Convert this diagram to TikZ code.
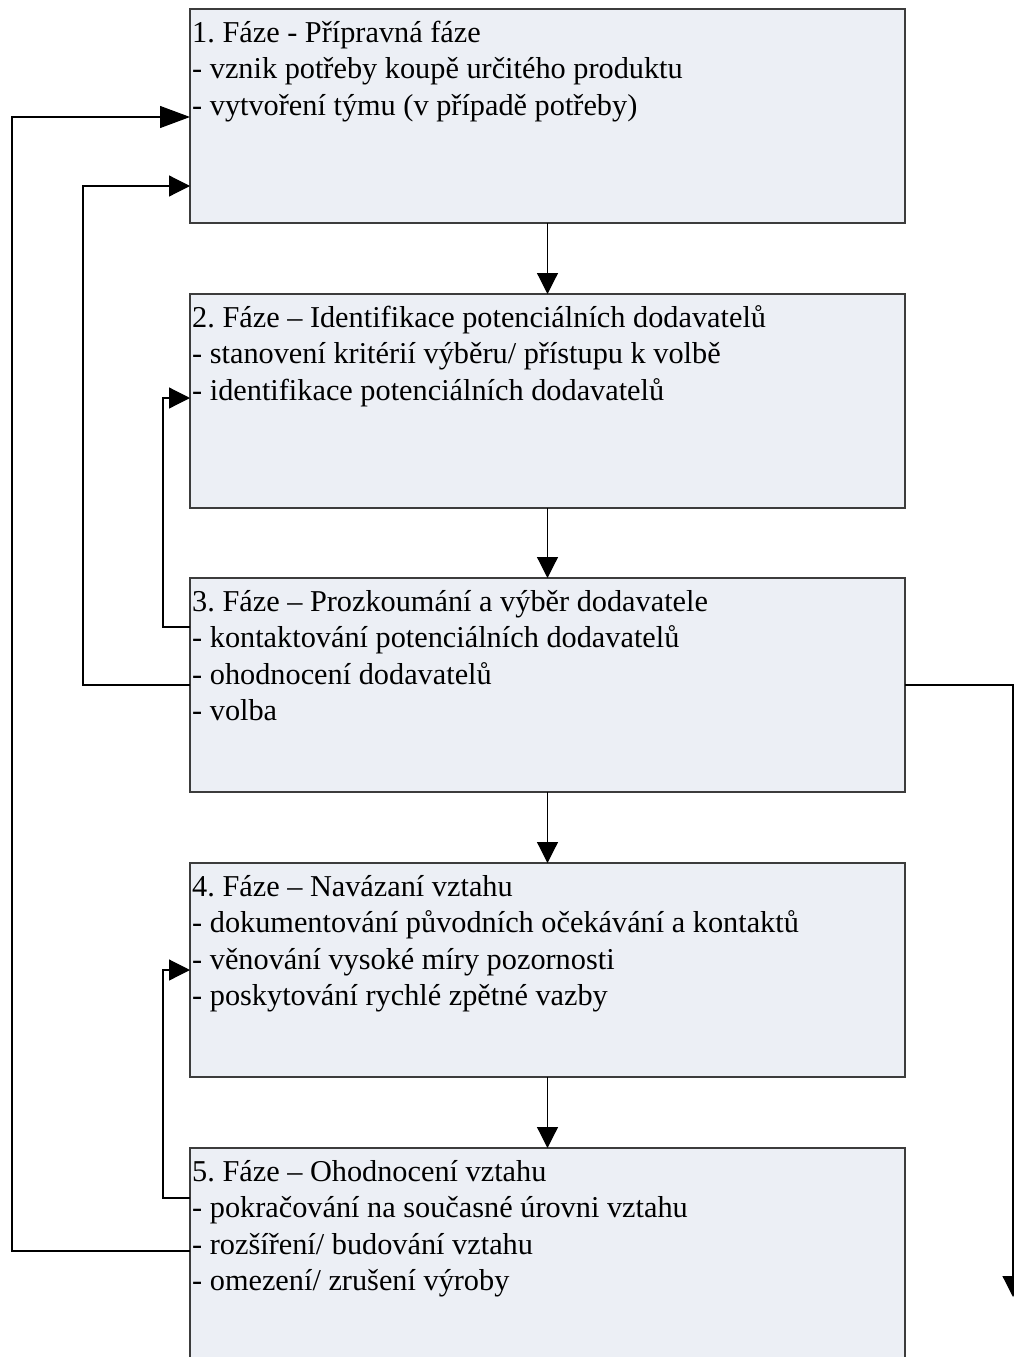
\documentclass[tikz,border=0pt]{standalone}
\usepackage{fontspec}
\setmainfont{Liberation Serif}
\usetikzlibrary{arrows.meta}
\definecolor{boxfill}{HTML}{ECEFF5}
\definecolor{boxline}{HTML}{3C3C3C}
\frenchspacing

\begin{document}
\begin{tikzpicture}[x=1pt,y=-1pt,
  phase/.style={draw=boxline, line width=1.6pt, fill=boxfill,
    minimum width=715pt, minimum height=214pt, inner sep=0pt, outer sep=0pt,
    anchor=north west},
  phasetext/.style={anchor=north west, inner sep=0pt, align=left,
    font=\fontsize{30.3}{36.3}\selectfont\frenchspacing},
  link/.style={line width=1.2pt, -{Triangle[length=21pt,width=21pt]}},
  biglink/.style={line width=1.2pt, -{Triangle[length=30pt,width=22pt]}}]

\useasboundingbox (0,0) rectangle (1014,1357);
\clip (0,0) rectangle (1014,1357);

% phase boxes
\node[phase] (b1) at (190,9)    {};
\node[phase] (b2) at (190,294)  {};
\node[phase] (b3) at (190,578)  {};
\node[phase] (b4) at (190,863)  {};
\node[phase] (b5) at (190,1148) {};

% phase texts
\node[phasetext] (t1) at ([xshift=2pt,yshift=-8pt]b1.north west)
  {\strut 1. Fáze - Přípravná fáze\\
   \strut - vznik potřeby koupě určitého produktu\\
   \strut - vytvoření týmu (v případě potřeby)};
\node[phasetext] (t2) at ([xshift=2pt,yshift=-8pt]b2.north west)
  {\strut 2. Fáze – Identifikace potenciálních dodavatelů\\
   \strut - stanovení kritérií výběru/ přístupu k volbě\\
   \strut - identifikace potenciálních dodavatelů};
\node[phasetext] (t3) at ([xshift=2pt,yshift=-8pt]b3.north west)
  {\strut 3. Fáze – Prozkoumání a výběr dodavatele\\
   \strut - kontaktování potenciálních dodavatelů\\
   \strut - ohodnocení dodavatelů\\
   \strut - volba};
\node[phasetext] (t4) at ([xshift=2pt,yshift=-8pt]b4.north west)
  {\strut 4. Fáze – Navázaní vztahu\\
   \strut - dokumentování původních očekávání a kontaktů\\
   \strut - věnování vysoké míry pozornosti\\
   \strut - poskytování rychlé zpětné vazby};
\node[phasetext] (t5) at ([xshift=2pt,yshift=-8pt]b5.north west)
  {\strut 5. Fáze – Ohodnocení vztahu\\
   \strut - pokračování na současné úrovni vztahu\\
   \strut - rozšíření/ budování vztahu\\
   \strut - omezení/ zrušení výroby};

% main sequence
\draw[link] (b1.south) -- (b2.north);
\draw[link] (b2.south) -- (b3.north);
\draw[link] (b3.south) -- (b4.north);
\draw[link] (b4.south) -- (b5.north);

% feedback loops
\draw[link] ([yshift=-49pt]b3.north west) -- ++(-27,0)
  |- ([yshift=-104pt]b2.north west);
\draw[link] ([yshift=-107pt]b3.north west) -- ++(-107,0)
  |- ([yshift=-177pt]b1.north west);
\draw[link] ([yshift=-50pt]b5.north west) -- ++(-27,0)
  |- ([yshift=-107pt]b4.north west);
\draw[biglink] ([yshift=-103pt]b5.north west) -- ++(-178,0)
  |- ([yshift=-108pt]b1.north west);

% exit on the right
\coordinate (exit) at (1013,1297);
\draw[link] ([yshift=-107pt]b3.north east) -| (exit);
\end{tikzpicture}
\end{document}
